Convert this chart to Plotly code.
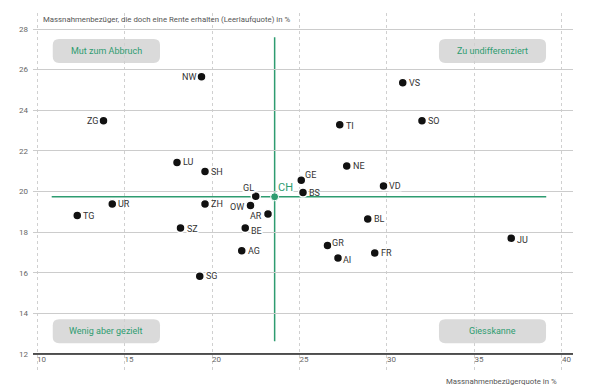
import plotly.graph_objects as go

# ---- data ----
kantone = ["NW", "ZG", "LU", "SH", "GL", "UR", "TG", "ZH", "OW", "AR", "SZ", "BE", "AG", "SG",
           "VS", "SO", "TI", "NE", "GE", "BS", "VD", "BL", "JU", "GR", "FR", "AI"]
bezuegerquote = [19.4, 13.8, 18.0, 19.6, 22.5, 14.3, 12.3, 19.6, 22.2, 23.2, 18.2, 21.9, 21.7, 19.3,
                 30.9, 32.0, 27.3, 27.7, 25.1, 25.2, 29.8, 28.9, 37.1, 26.6, 29.3, 27.2]
leerlaufquote = [25.65, 23.48, 21.43, 20.99, 19.77, 19.38, 18.82, 19.38, 19.31, 18.89, 18.20, 18.20, 17.08, 15.83,
                 25.36, 23.48, 23.29, 21.25, 20.56, 19.95, 20.27, 18.64, 17.70, 17.34, 16.97, 16.72]
ch_label = "CH"
ch_x = 23.58
ch_y = 19.74
quadrant_labels = ["Mut zum Abbruch", "Zu undifferenziert", "Wenig aber gezielt", "Giesskanne"]
x_ticks = [10, 15, 20, 25, 30, 35, 40]
y_ticks = [12, 14, 16, 18, 20, 22, 24, 26, 28]
y_title = "Massnahmenbezüger, die doch eine Rente erhalten (Leerlaufquote) in %"
x_title = "Massnahmenbezügerquote in %"

# ---- style ----
FONT = "Roboto, Liberation Sans, sans-serif"
GREEN = "#2e9c70"
GRAY_BOX = "#dadada"
XR = [9.771, 40.63]
YR = [11.21, 28.79]

# label placement (style only): (xanchor, xshift, yshift)
place = {
    "NW": ("right", -5, 0), "ZG": ("right", -5, 0), "GL": ("right", -1, 8),
    "OW": ("right", -5, -1), "AR": ("right", -5, -2), "GE": ("left", 3, 5),
    "GR": ("left", 4, 3), "BE": ("left", 5, -3), "AI": ("left", 4, -2),
    "JU": ("left", 5, -2), "TG": ("left", 5, -1), "TI": ("left", 5, -1),
    "SZ": ("left", 5, -1), "SH": ("left", 5, -1),
}
no_bg = {"BS", "UR", "ZH", "OW", "GE"}

fig = go.Figure()

fig.add_trace(go.Scatter(
    x=bezuegerquote, y=leerlaufquote, mode="markers",
    marker=dict(size=9, color="#111111", line=dict(color="white", width=1.5)),
    hoverinfo="text", text=kantone, showlegend=False,
))
fig.add_trace(go.Scatter(
    x=[ch_x], y=[ch_y], mode="markers",
    marker=dict(size=8, color=GREEN, line=dict(color="white", width=1)),
    hoverinfo="text", text=[ch_label], showlegend=False,
))

shapes = []
# green reference lines through CH
shapes.append(dict(type="line", xref="x", yref="y", x0=ch_x, x1=ch_x, y0=12.63, y1=27.6,
                   line=dict(color=GREEN, width=1.5), layer="below"))
shapes.append(dict(type="line", xref="x", yref="y", x0=10.84, x1=39.1, y0=ch_y, y1=ch_y,
                   line=dict(color=GREEN, width=1.5), layer="below"))
# bottom axis line
shapes.append(dict(type="line", xref="paper", yref="y", x0=0, x1=1, y0=12, y1=12,
                   line=dict(color="#222222", width=1.5), layer="above"))


def rounded(x0, x1, y0, y1, rx=0.36, ry=0.3):
    return (f"M {x0+rx},{y0} L {x1-rx},{y0} Q {x1},{y0} {x1},{y0+ry} "
            f"L {x1},{y1-ry} Q {x1},{y1} {x1-rx},{y1} L {x0+rx},{y1} "
            f"Q {x0},{y1} {x0},{y1-ry} L {x0},{y0+ry} Q {x0},{y0} {x0+rx},{y0} Z")


boxes = [(10.9, 17.03, 26.33, 27.51), (32.97, 39.09, 26.33, 27.51),
         (10.9, 17.03, 12.53, 13.71), (32.97, 39.09, 12.53, 13.71)]
annotations = []
for (bx0, bx1, by0, by1), txt in zip(boxes, quadrant_labels):
    shapes.append(dict(type="path", xref="x", yref="y", path=rounded(bx0, bx1, by0, by1),
                       fillcolor=GRAY_BOX, line=dict(width=0), layer="below"))
    annotations.append(dict(x=(bx0 + bx1) / 2, y=(by0 + by1) / 2, xref="x", yref="y",
                            text=txt, showarrow=False,
                            font=dict(family=FONT, size=9, color=GREEN)))

for k, xv, yv in zip(kantone, bezuegerquote, leerlaufquote):
    xa, xs, ys = place.get(k, ("left", 5, 0))
    annotations.append(dict(x=xv, y=yv, xref="x", yref="y", text=k, showarrow=False,
                            xanchor=xa, yanchor="middle", xshift=xs, yshift=ys,
                            bgcolor="rgba(0,0,0,0)" if k in no_bg else "white", borderpad=0,
                            font=dict(family=FONT, size=9, color="#333333")))

annotations.append(dict(x=ch_x, y=ch_y, xref="x", yref="y", text=ch_label, showarrow=False,
                        xanchor="left", yanchor="middle", xshift=2, yshift=9,
                        bgcolor="white", borderpad=0,
                        font=dict(family=FONT, size=11, color=GREEN)))

annotations.append(dict(x=0.0148, y=0.983, xref="paper", yref="paper", text=y_title,
                        showarrow=False, xanchor="left", yanchor="middle",
                        font=dict(family=FONT, size=7.8, color="#555555")))
annotations.append(dict(x=0.974, y=-0.031, xref="paper", yref="paper", text=x_title,
                        showarrow=False, xanchor="right", yanchor="middle",
                        font=dict(family=FONT, size=7.8, color="#555555")))

fig.update_layout(
    width=592, height=392,
    margin=dict(l=33, r=19, t=13, b=22, autoexpand=False),
    paper_bgcolor="white", plot_bgcolor="white",
    font=dict(family=FONT, size=8, color="#666666"),
    shapes=shapes, annotations=annotations,
    xaxis=dict(range=XR, tickvals=x_ticks, ticktext=[str(v) for v in x_ticks],
               showgrid=True, gridcolor="#d0d0d0", griddash="dot", gridwidth=1,
               zeroline=False, showline=False, ticks="", automargin=False,
               ticklabelposition="inside right",
               tickfont=dict(family=FONT, size=8, color="#666666")),
    yaxis=dict(range=YR, tickvals=y_ticks, ticktext=[str(v) for v in y_ticks],
               showgrid=True, gridcolor="#cccccc", gridwidth=1,
               zeroline=False, showline=False, ticks="", automargin=False,
               ticklabelstandoff=4,
               tickfont=dict(family=FONT, size=8, color="#666666")),
    hovermode="closest",
)

fig.write_html("out.html", config={"displayModeBar": False},
               post_script="document.body.style.margin='0px';document.body.style.padding='0px';")
